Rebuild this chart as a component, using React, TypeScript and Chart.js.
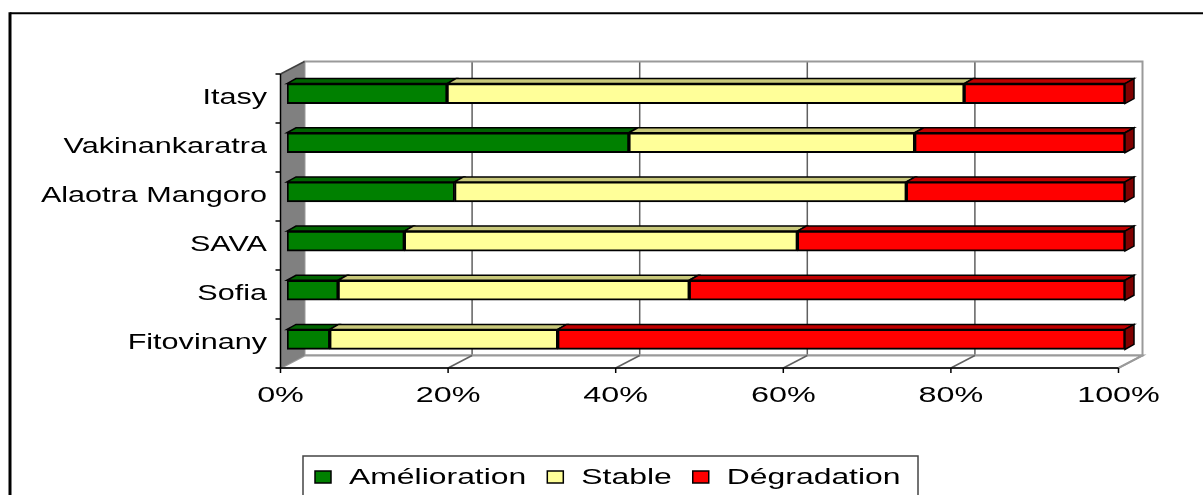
import { useEffect, useRef } from "react";
import { Chart, registerables } from "chart.js";

Chart.register(...registerables);

const categories = ["Itasy", "Vakinankaratra", "Alaotra Mangoro", "SAVA", "Sofia", "Fitovinany"];
const amelioration = [19.1, 40.8, 20.0, 14.0, 6.1, 5.1];
const stable = [61.7, 34.1, 53.9, 46.9, 41.9, 27.2];
const degradation = [19.2, 25.1, 26.1, 39.1, 52.0, 67.7];
const seriesNames = ["Amélioration", "Stable", "Dégradation"];
const xTicks = [0, 20, 40, 60, 80, 100];
const xTickLabels = ["0%", "20%", "40%", "60%", "80%", "100%"];

const frontColors = ["#008000", "#FFFF99", "#FF0000"];
const topColors = ["#006400", "#C8C87A", "#C00000"];
const sideColors = ["#004000", "#9A9A60", "#800000"];

const FONT = '22px "Liberation Sans", Arial, sans-serif';

function stretchedText(ctx: CanvasRenderingContext2D, text: string, x: number, y: number, align: string, sx: number) {
  ctx.save();
  ctx.font = FONT;
  ctx.fillStyle = "#000";
  ctx.textBaseline = "alphabetic";
  ctx.textAlign = "left";
  const w = ctx.measureText(text).width * sx;
  let left = x;
  if (align === "right") left = x - w;
  else if (align === "center") left = x - w / 2;
  ctx.translate(left, y);
  ctx.scale(sx, 1);
  ctx.fillText(text, 0, 0);
  ctx.restore();
  return w;
}

function poly(ctx: CanvasRenderingContext2D, pts: number[][], fill: string | null, stroke: string | null, lw = 1) {
  ctx.beginPath();
  ctx.moveTo(pts[0][0], pts[0][1]);
  for (let i = 1; i < pts.length; i++) ctx.lineTo(pts[i][0], pts[i][1]);
  ctx.closePath();
  if (fill) {
    ctx.fillStyle = fill;
    ctx.fill();
  }
  if (stroke) {
    ctx.strokeStyle = stroke;
    ctx.lineWidth = lw;
    ctx.stroke();
  }
}

function line(ctx: CanvasRenderingContext2D, x1: number, y1: number, x2: number, y2: number, color: string, lw: number) {
  ctx.beginPath();
  ctx.moveTo(x1, y1);
  ctx.lineTo(x2, y2);
  ctx.strokeStyle = color;
  ctx.lineWidth = lw;
  ctx.stroke();
}

const DX = 24;
const DY = -12.5;
const BDX = 9;
const BDY = -5;

const threeD = {
  id: "threeD",
  beforeDatasetsDraw(chart: any) {
    const { ctx, chartArea } = chart;
    const xs = chart.scales.x;
    const fx = (v: number) => xs.getPixelForValue(v) - 6.5;
    const fTop = chartArea.top + 5;
    const fBot = chartArea.bottom + 4;
    const band = (fBot - fTop) / categories.length;
    ctx.save();
    ctx.fillStyle = "#fff";
    ctx.fillRect(fx(0) + DX, fTop + DY, fx(100) - fx(0), fBot - fTop);
    xTicks.forEach((v) => {
      if (v === 0 || v === 100) return;
      line(ctx, fx(v) + DX, fTop + DY, fx(v) + DX, fBot + DY, "#606060", 1.5);
    });
    ctx.strokeStyle = "#9a9a9a";
    ctx.lineWidth = 2;
    ctx.strokeRect(fx(0) + DX, fTop + DY, fx(100) - fx(0), fBot - fTop);
    poly(
      ctx,
      [
        [fx(0), fBot],
        [fx(0) + DX, fBot + DY],
        [fx(100) + DX, fBot + DY],
        [fx(100), fBot],
      ],
      "#fff",
      "#9a9a9a",
      2
    );
    xTicks.forEach((v) => {
      if (v === 0) return;
      line(ctx, fx(v), fBot, fx(v) + DX, fBot + DY, v === 100 ? "#9a9a9a" : "#606060", 1.5);
    });
    poly(
      ctx,
      [
        [fx(0), fTop],
        [fx(0) + DX, fTop + DY],
        [fx(0) + DX, fBot + DY],
        [fx(0), fBot],
      ],
      "#808080",
      null
    );
    line(ctx, fx(0), fTop, fx(0) + DX, fTop + DY, "#404040", 1.5);
    line(ctx, fx(0), fTop, fx(0), fBot, "#000", 1.5);
    line(ctx, fx(0), fBot, fx(100), fBot, "#000", 1.5);
    xTicks.forEach((v) => line(ctx, fx(v), fBot, fx(v), fBot + 5, "#000", 1.5));
    for (let k = 0; k <= categories.length; k++) {
      const yy = fTop + k * band;
      line(ctx, fx(0) - 5, yy, fx(0), yy, "#000", 1.5);
    }
    ctx.restore();
  },
  afterDatasetsDraw(chart: any) {
    const { ctx } = chart;
    const n = chart.data.datasets.length;
    ctx.save();
    ctx.lineJoin = "miter";
    for (let di = 0; di < n; di++) {
      const meta = chart.getDatasetMeta(di);
      meta.data.forEach((el: any) => {
        const p = el.getProps(["x", "y", "base", "height"], true);
        const x0 = Math.min(p.x, p.base);
        const x1 = Math.max(p.x, p.base);
        const yT = p.y - p.height / 2;
        const yB = p.y + p.height / 2;
        poly(
          ctx,
          [
            [x0, yT],
            [x0 + BDX, yT + BDY],
            [x1 + BDX, yT + BDY],
            [x1, yT],
          ],
          topColors[di],
          "#000",
          1.5
        );
        if (di === n - 1) {
          poly(
            ctx,
            [
              [x1, yT],
              [x1 + BDX, yT + BDY],
              [x1 + BDX, yB + BDY],
              [x1, yB],
            ],
            sideColors[di],
            "#000",
            1.5
          );
        }
      });
    }
    ctx.restore();
  },
  afterDraw(chart: any) {
    const { ctx, chartArea } = chart;
    const xs = chart.scales.x;
    const ys = chart.scales.y;
    const fx = (v: number) => xs.getPixelForValue(v) - 6.5;
    categories.forEach((c, i) => {
      stretchedText(ctx, c, 267, ys.getPixelForValue(i) + 10, "right", 1.39);
    });
    xTicks.forEach((v, i) => {
      stretchedText(ctx, xTickLabels[i], fx(v), chartArea.bottom + 38, "center", 1.47);
    });
    ctx.save();
    ctx.strokeStyle = "#444";
    ctx.lineWidth = 1.5;
    ctx.strokeRect(303, 456, 615, 80);
    let cx = 315;
    chart.data.datasets.forEach((ds: any, i: number) => {
      ctx.fillStyle = frontColors[i];
      ctx.fillRect(cx, 471, 16, 12);
      ctx.strokeStyle = "#000";
      ctx.lineWidth = 1.5;
      ctx.strokeRect(cx, 471, 16, 12);
      cx += 16 + 18;
      const w = stretchedText(ctx, ds.label, cx, 484, "left", 1.45);
      cx += w + 21;
    });
    line(ctx, 10, 13.3, 1203, 13.3, "#000", 2);
    line(ctx, 10, 12.3, 10, 495, "#000", 3);
    ctx.restore();
  },
};

export default function App() {
  const ref = useRef<HTMLCanvasElement | null>(null);
  useEffect(() => {
    if (!ref.current) return;
    const values = [amelioration, stable, degradation];
    const chart = new Chart(ref.current, {
      type: "bar",
      data: {
        labels: categories,
        datasets: seriesNames.map((name, i) => ({
          label: name,
          data: values[i],
          backgroundColor: frontColors[i],
          borderColor: "#000",
          borderWidth: 2,
          borderSkipped: false,
          barThickness: 20,
        })),
      },
      options: {
        indexAxis: "y",
        responsive: false,
        animation: false,
        devicePixelRatio: 1,
        layout: { padding: { left: 287, right: 78, top: 69, bottom: 131 } },
        scales: {
          x: { stacked: true, min: 0, max: 100, display: false },
          y: { stacked: true, display: false },
        },
        plugins: {
          legend: { display: false },
          tooltip: { enabled: false },
        },
      },
      plugins: [threeD],
    } as any);
    return () => chart.destroy();
  }, []);
  return (
    <div style={{ position: "absolute", left: 0, top: 0, width: 1203, height: 495, background: "#fff" }}>
      <canvas ref={ref} width={1203} height={495} style={{ display: "block" }} />
    </div>
  );
}
